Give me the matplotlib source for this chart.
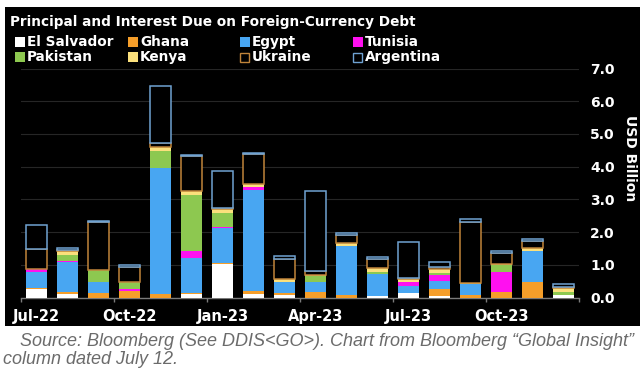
import numpy as np
import matplotlib
matplotlib.use('Agg')
import matplotlib.pyplot as plt
from matplotlib.patches import Rectangle

# 月份和各国数据（十亿美元）
months = ['Jul-22', 'Aug-22', 'Sep-22', 'Oct-22', 'Nov-22', 'Dec-22',
          'Jan-23', 'Feb-23', 'Mar-23', 'Apr-23', 'May-23', 'Jun-23',
          'Jul-23', 'Aug-23', 'Sep-23', 'Oct-23', 'Nov-23', 'Dec-23']
el_salvador = [0.25, 0.10, 0.00, 0.00, 0.00, 0.10, 1.02, 0.10, 0.09, 0.00, 0.00, 0.06, 0.13, 0.04, 0.00, 0.00, 0.00, 0.09]
ghana       = [0.05, 0.07, 0.15, 0.20, 0.12, 0.04, 0.03, 0.10, 0.06, 0.16, 0.08, 0.00, 0.00, 0.22, 0.09, 0.18, 0.47, 0.00]
egypt       = [0.47, 0.92, 0.31, 0.00, 3.84, 1.08, 1.07, 3.08, 0.32, 0.31, 1.48, 0.66, 0.23, 0.23, 0.31, 0.00, 0.95, 0.00]
tunisia     = [0.09, 0.03, 0.02, 0.07, 0.00, 0.20, 0.04, 0.09, 0.00, 0.00, 0.00, 0.00, 0.12, 0.20, 0.00, 0.61, 0.00, 0.00]
pakistan    = [0.00, 0.19, 0.37, 0.20, 0.51, 1.71, 0.42, 0.00, 0.00, 0.20, 0.00, 0.05, 0.00, 0.05, 0.00, 0.20, 0.00, 0.07]
kenya       = [0.00, 0.11, 0.00, 0.00, 0.12, 0.12, 0.12, 0.09, 0.10, 0.03, 0.11, 0.13, 0.09, 0.12, 0.05, 0.03, 0.10, 0.12]
ukraine     = [0.63, 0.04, 1.45, 0.45, 0.13, 1.07, 0.03, 0.93, 0.61, 0.12, 0.24, 0.28, 0.03, 0.08, 1.86, 0.33, 0.22, 0.05]
argentina   = [0.74, 0.05, 0.03, 0.07, 1.73, 0.04, 1.13, 0.04, 0.08, 2.45, 0.06, 0.07, 1.10, 0.13, 0.10, 0.08, 0.06, 0.08]

names = ['El Salvador', 'Ghana', 'Egypt', 'Tunisia', 'Pakistan', 'Kenya', 'Ukraine', 'Argentina']
series = [el_salvador, ghana, egypt, tunisia, pakistan, kenya, ukraine, argentina]
colors = ['#ffffff', '#f59e2a', '#48a6f2', '#ff10f0', '#8dc850', '#fbe07c', '#c0843a', '#6fa2d2']
hollow = [False, False, False, False, False, False, True, True]

W, H = 643, 374
fig = plt.figure(figsize=(W / 100, H / 100), dpi=100)
fig.patch.set_facecolor('white')

# 黑色背景面板
fig.add_artist(Rectangle((5 / W, 1 - 326 / H), 635 / W, 319 / H,
                         transform=fig.transFigure, facecolor='black',
                         edgecolor='none', zorder=0))

ax = fig.add_axes([21 / W, 1 - 297.5 / H, 558 / W, 229 / H])
ax.set_facecolor('black')
ax.patch.set_alpha(0)

x = np.arange(len(months))
bottom = np.zeros(len(months))
for name, vals, c, h in zip(names, series, colors, hollow):
    vals = np.array(vals)
    if h:
        ax.bar(x, vals, 0.68, bottom=bottom, facecolor='black', edgecolor=c,
               linewidth=1.1, zorder=3)
    else:
        ax.bar(x, vals, 0.68, bottom=bottom, color=c, linewidth=0, zorder=3)
    bottom += vals

ax.set_xlim(-0.5, 17.5)
ax.set_ylim(0, 7.0)

for s in ['top', 'left', 'right']:
    ax.spines[s].set_visible(False)
ax.spines['bottom'].set_color('#7a7a7a')
ax.spines['bottom'].set_linewidth(1.0)

ax.set_yticks(np.arange(0, 7.5, 1.0))
ax.set_yticklabels(['%.1f' % v for v in np.arange(0, 7.5, 1.0)])
ax.yaxis.tick_right()
ax.tick_params(axis='y', length=0, pad=8, labelsize=10, labelcolor='white')
ax.grid(axis='y', color='#262626', linewidth=0.8, zorder=0)

ax.set_xticks(x[::3])
ax.set_xticklabels(months[::3])
ax.set_xticks(np.arange(-0.5, 18, 3), minor=True)
ax.tick_params(axis='x', which='major', length=0, pad=8, labelsize=10.5, labelcolor='white')
ax.tick_params(axis='x', which='minor', length=3, width=1, color='#7a7a7a')
for lab in ax.get_xticklabels() + ax.get_yticklabels():
    lab.set_fontweight('bold')

fig.text(630 / W, 1 - 158 / H, 'USD Billion', rotation=270, color='white',
         fontsize=10, fontweight='bold', ha='center', va='center')

# 标题
fig.text(10 / W, 1 - 22 / H, 'Principal and Interest Due on Foreign-Currency Debt',
         color='white', fontsize=9.8, fontweight='bold', va='center', ha='left')

# 图例
col_x = [15, 128, 240, 353]
row_y = [42, 57]
for i, (name, c, h) in enumerate(zip(names, colors, hollow)):
    cx = col_x[i % 4]
    cy = row_y[i // 4]
    if h:
        sq = Rectangle((cx / W, 1 - (cy + 4.5) / H), 9 / W, 9 / H, transform=fig.transFigure,
                       facecolor='black', edgecolor=c, linewidth=1.0)
    else:
        sq = Rectangle((cx / W, 1 - (cy + 5) / H), 10 / W, 10 / H, transform=fig.transFigure,
                       facecolor=c, edgecolor='none')
    fig.add_artist(sq)
    fig.text((cx + 12) / W, 1 - cy / H, name, color='white', fontsize=9.8,
             fontweight='bold', va='center', ha='left')

# 来源说明
src_font = ['Liberation Sans Narrow', 'Liberation Sans', 'DejaVu Sans']
fig.text(20 / W, 1 - 341 / H,
         'Source: Bloomberg (See DDIS<GO>). Chart from Bloomberg \u201cGlobal Insight\u201d',
         color='#6b6b6b', fontsize=13, style='italic', family=src_font,
         va='center', ha='left')
fig.text(3 / W, 1 - 360 / H, 'column dated July 12.', color='#6b6b6b', fontsize=13,
         style='italic', family=src_font, va='center', ha='left')

fig.savefig('out.png', dpi=100, facecolor='white')
